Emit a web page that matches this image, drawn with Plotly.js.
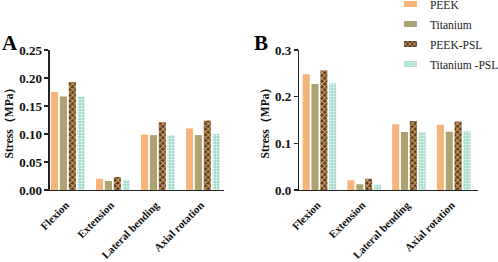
<!DOCTYPE html>
<html><head><meta charset="utf-8">
<script src="https://cdn.plot.ly/plotly-3.0.1.min.js"></script>
<style>html,body{margin:0;padding:0;background:#fff}#chart{width:498px;height:262px}</style>
</head><body><div id="chart"></div>
<script>
const categories = ["Flexion", "Extension", "Lateral bending", "Axial rotation"];
const seriesNames = ["PEEK", "Titanium", "PEEK-PSL", "Titanium -PSL"];
// Panel A values (MPa)
const peekA = [0.175, 0.020, 0.099, 0.110];
const titaniumA = [0.167, 0.016, 0.098, 0.098];
const peekPslA = [0.193, 0.023, 0.121, 0.124];
const titaniumPslA = [0.167, 0.018, 0.098, 0.100];
// Panel B values (MPa)
const peekB = [0.248, 0.021, 0.141, 0.140];
const titaniumB = [0.227, 0.012, 0.124, 0.125];
const peekPslB = [0.256, 0.024, 0.148, 0.147];
const titaniumPslB = [0.229, 0.011, 0.124, 0.126];

const serif = "Liberation Serif, Times New Roman, serif";
const styles = [
  {color: "#F5B57A"},
  {color: "#ADA270"},
  {color: "#6E4C2C", pattern: {shape: "x", fgcolor: "#D8A868", bgcolor: "#5A3A1E", size: 4, solidity: 0.45}},
  {color: "#A6DCCB", pattern: {shape: ".", fgcolor: "#FFFFFF", bgcolor: "#9AD8C4", size: 3, solidity: 0.35}}
];
const dataA = [peekA, titaniumA, peekPslA, titaniumPslA];
const dataB = [peekB, titaniumB, peekPslB, titaniumPslB];
const traces = [];
dataA.forEach((v, i) => traces.push({type: "bar", x: categories, y: v, name: seriesNames[i],
  xaxis: "x", yaxis: "y", legendgroup: seriesNames[i], showlegend: false,
  marker: Object.assign({line: {width: 0}}, styles[i])}));
dataB.forEach((v, i) => traces.push({type: "bar", x: categories, y: v, name: seriesNames[i],
  xaxis: "x2", yaxis: "y2", legendgroup: seriesNames[i], showlegend: true,
  marker: Object.assign({line: {width: 0}}, styles[i])}));

const xcommon = {type: "category", showline: true, linecolor: "#222", linewidth: 1.5, ticks: "",
  tickangle: -45, ticklabelshift: -2, ticklabelstandoff: 3,
  tickfont: {family: serif, size: 11, color: "#111", weight: "bold"},
  showgrid: false, zeroline: false, automargin: false};
const ycommon = {showline: true, linecolor: "#222", linewidth: 1.5, ticks: "outside", ticklen: 4,
  tickwidth: 1.3, tickcolor: "#222", showgrid: false, zeroline: false, automargin: false,
  tickfont: {family: serif, size: 13, color: "#111", weight: "bold"},
  title: {text: "Stress（MPa）", font: {family: serif, size: 11.5, color: "#111", weight: "bold"}, standoff: 3}};

const layout = {
  width: 498, height: 262, margin: {l: 0, r: 0, t: 0, b: 0, autoexpand: false},
  paper_bgcolor: "#fff", plot_bgcolor: "#fff",
  barmode: "group", bargap: 0.21, bargroupgap: 0.2,
  showlegend: true,
  legend: {x: 0.783, y: 1.04, xanchor: "left", yanchor: "top", font: {family: serif, size: 11.5, color: "#222"},
    tracegroupgap: 1, bgcolor: "rgba(0,0,0,0)"},
  xaxis: Object.assign({}, xcommon, {domain: [0.1004, 0.4498], range: [-0.397, 3.47], anchor: "y"}),
  yaxis: Object.assign({}, ycommon, {domain: [0.275, 0.809], range: [0, 0.25], dtick: 0.05, tickformat: ".2f", anchor: "x"}),
  xaxis2: Object.assign({}, xcommon, {domain: [0.601, 0.960], range: [-0.45, 3.545], anchor: "y2"}),
  yaxis2: Object.assign({}, ycommon, {domain: [0.275, 0.809], range: [0, 0.3], dtick: 0.1, tickformat: ".1f", anchor: "x2"}),
  annotations: [
    {text: "A", x: 0.0, y: 0.835, xref: "paper", yref: "paper", xanchor: "left", yanchor: "middle", showarrow: false,
      font: {family: serif, size: 21, color: "#000", weight: "bold"}},
    {text: "B", x: 0.507, y: 0.835, xref: "paper", yref: "paper", xanchor: "left", yanchor: "middle", showarrow: false,
      font: {family: serif, size: 21, color: "#000", weight: "bold"}}
  ]
};
Plotly.newPlot("chart", traces, layout, {staticPlot: true, displayModeBar: false}).then(() => {
  // flatter legend swatches, as in the reference
  document.querySelectorAll(".legendpoints path").forEach(p => p.setAttribute("d", "M7,3H-6V-3H7Z"));
});
</script></body></html>
